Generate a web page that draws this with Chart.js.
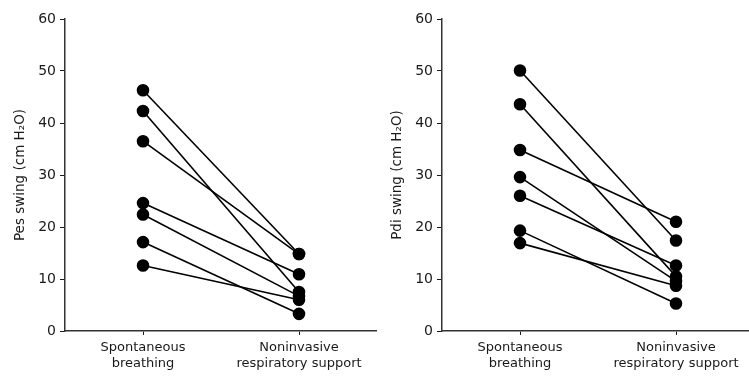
<!DOCTYPE html>
<html>
<head>
<meta charset="utf-8">
<script src="https://cdn.jsdelivr.net/npm/chart.js@4"></script>
<style>
  html, body { margin: 0; padding: 0; background: #fff; }
  #wrap { position: relative; width: 749px; height: 376px; overflow: hidden; }
  canvas { position: absolute; top: 0; }
  #pesChart { left: 0; }
  #pdiChart { left: 377px; }
</style>
</head>
<body>
<div id="wrap">
  <canvas id="pesChart" width="377" height="376"></canvas>
  <canvas id="pdiChart" width="377" height="376"></canvas>
</div>
<script>
// categories on the x axis
const categories = [["Spontaneous", "breathing"], ["Noninvasive", "respiratory support"]];

// Pes swing, one entry per patient (cm H2O)
const pesSpontaneous = [46.3, 42.3, 36.5, 24.6, 22.4, 17.1, 12.6];
const pesNoninvasive = [14.8, 7.5, 14.8, 10.9, 6.7, 3.3, 6.0];

// Pdi swing, one entry per patient (cm H2O)
const pdiSpontaneous = [50.1, 43.6, 34.8, 29.6, 26.0, 19.3, 16.9];
const pdiNoninvasive = [17.4, 10.5, 21.0, 9.6, 12.6, 5.3, 8.7];

const yMin = 0, yMax = 60, yStep = 10;

const ink = "#1a1a1a";
const labelFont = { family: "DejaVu Sans", size: 13 };
const tickFont = { family: "DejaVu Sans", size: 14 };
const titleFont = { family: "DejaVu Sans", size: 13.5 };

function pairs(before, after) {
    return before.map((v, i) => ({
        data: [v, after[i]],
        borderColor: "#000",
        borderWidth: 1.6,
        backgroundColor: "#000",
        pointBackgroundColor: "#000",
        pointBorderColor: "#000",
        pointRadius: 5.5,
        pointHoverRadius: 5.5,
        tension: 0
    }));
}

function makeChart(id, title, before, after) {
    new Chart(document.getElementById(id), {
        type: "line",
        data: { labels: categories, datasets: pairs(before, after) },
        options: {
            responsive: false,
            animation: false,
            layout: { autoPadding: false, padding: { top: 19, right: 0, left: 0, bottom: 0 } },
            plugins: { legend: { display: false }, tooltip: { enabled: false } },
            scales: {
                x: {
                    type: "category",
                    offset: true,
                    grid: { offset: false, drawOnChartArea: false, drawTicks: true, tickLength: 4, color: ink },
                    border: { display: true, color: "#333", width: 1.5 },
                    ticks: { color: ink, font: labelFont, padding: 5, maxRotation: 0, autoSkip: false },
                    afterFit: s => { s.height = 45; }
                },
                y: {
                    min: yMin,
                    max: yMax,
                    ticks: { stepSize: yStep, color: ink, font: tickFont, padding: 4 },
                    grid: { drawOnChartArea: false, drawTicks: true, tickLength: 5, color: ink },
                    border: { display: true, color: "#333", width: 1.5 },
                    title: { display: true, text: title, color: ink, font: titleFont, padding: { top: 12, bottom: 0 } },
                    afterFit: s => { s.width = 65; }
                }
            }
        }
    });
}

makeChart("pesChart", "Pes swing (cm H₂O)", pesSpontaneous, pesNoninvasive);
makeChart("pdiChart", "Pdi swing (cm H₂O)", pdiSpontaneous, pdiNoninvasive);
</script>
</body>
</html>
